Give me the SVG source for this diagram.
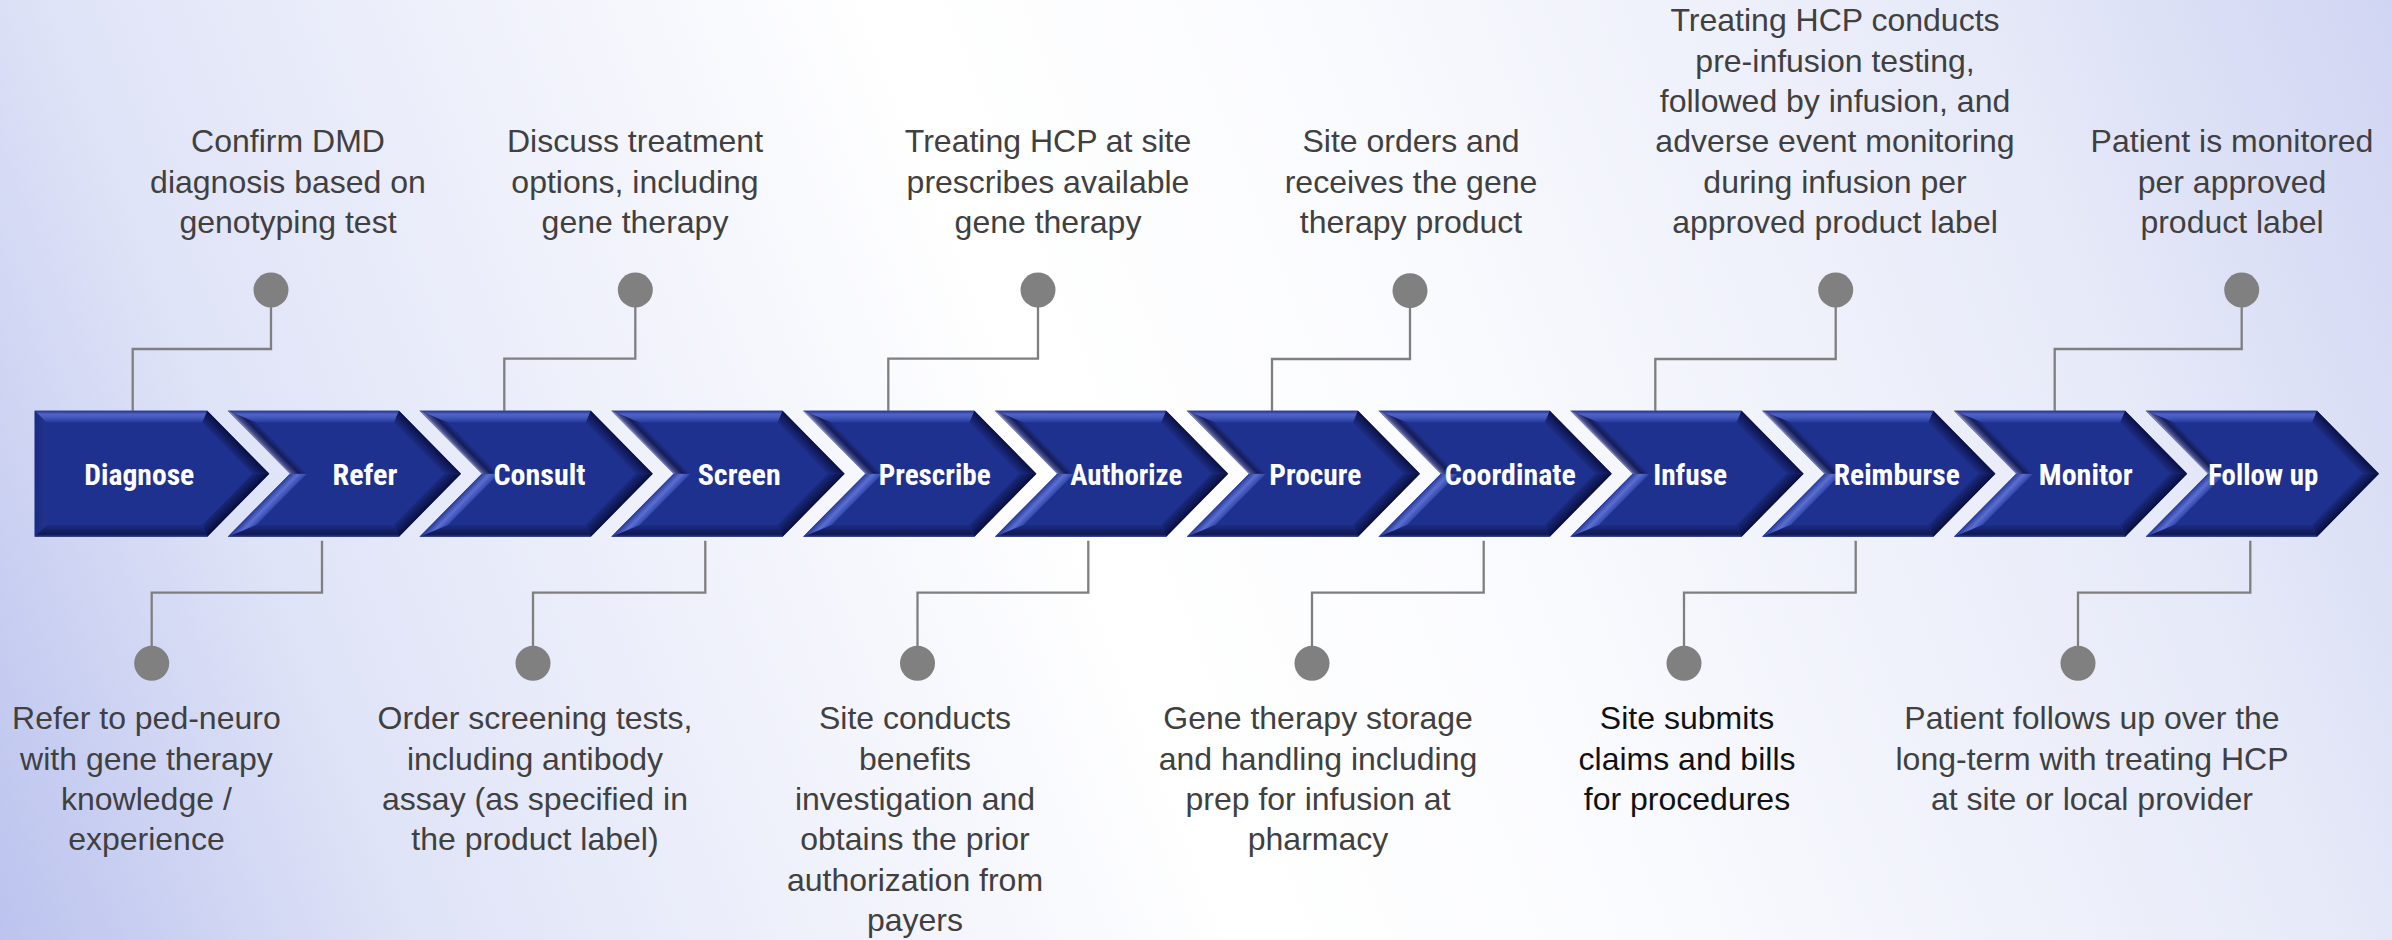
<svg xmlns="http://www.w3.org/2000/svg" xmlns:xlink="http://www.w3.org/1999/xlink" width="2392" height="940" viewBox="0 0 2392 940">
<defs>
<linearGradient id="bg" gradientUnits="userSpaceOnUse" x1="0" y1="940" x2="2392" y2="0">
<stop offset="0" stop-color="#bcc3ee"/>
<stop offset="0.15" stop-color="#dfe3f7"/>
<stop offset="0.45" stop-color="#ffffff"/>
<stop offset="0.6" stop-color="#fafbfe"/>
<stop offset="0.85" stop-color="#e6e9f8"/>
<stop offset="1" stop-color="#d0d5f3"/>
</linearGradient>
<linearGradient id="gTop" gradientUnits="userSpaceOnUse" x1="0" y1="0" x2="0" y2="12">
<stop offset="0" stop-color="#22338e"/>
<stop offset="0.3" stop-color="#5064c8"/>
<stop offset="0.6" stop-color="#4256b9"/>
<stop offset="1" stop-color="#23359a"/>
</linearGradient>
<linearGradient id="gBot" gradientUnits="userSpaceOnUse" x1="0" y1="114" x2="0" y2="126">
<stop offset="0" stop-color="#1d2d85"/>
<stop offset="0.8" stop-color="#0f1852"/>
<stop offset="1" stop-color="#2e3d82"/>
</linearGradient>
<linearGradient id="gRU" gradientUnits="userSpaceOnUse" x1="191.3" y1="37.5" x2="199.9" y2="29.1">
<stop offset="0" stop-color="#1d2d86"/>
<stop offset="1" stop-color="#0a1145"/>
</linearGradient>
<linearGradient id="gRL" gradientUnits="userSpaceOnUse" x1="191.3" y1="88.5" x2="199.9" y2="96.9">
<stop offset="0" stop-color="#1a2a80"/>
<stop offset="1" stop-color="#080f3e"/>
</linearGradient>
<linearGradient id="gLU" gradientUnits="userSpaceOnUse" x1="54" y1="37.5" x2="45.4" y2="45.9">
<stop offset="0" stop-color="#1f2f8a"/>
<stop offset="0.45" stop-color="#141c5a"/>
<stop offset="0.85" stop-color="#4a5190"/>
<stop offset="1" stop-color="#8a90b8"/>
</linearGradient>
<linearGradient id="gLL" gradientUnits="userSpaceOnUse" x1="54" y1="88.5" x2="45.4" y2="80.1">
<stop offset="0" stop-color="#3347ad"/>
<stop offset="0.5" stop-color="#5a6fd0"/>
<stop offset="1" stop-color="#2a3c9a"/>
</linearGradient>
<linearGradient id="gL0" gradientUnits="userSpaceOnUse" x1="0" y1="0" x2="12" y2="0">
<stop offset="0" stop-color="#1a2a80"/>
<stop offset="1" stop-color="#22348f"/>
</linearGradient>
<g id="chev">
<polygon points="0,0 171.3,0 233.3,63 171.3,126 0,126 62.3,63" fill="#1f318f"/>
<polygon points="0,0 171.3,0 166.3,12 28.8,12" fill="url(#gTop)"/>
<polygon points="171.3,0 233.3,63 216.4,63 166.3,12" fill="url(#gRU)"/>
<polygon points="233.3,63 171.3,126 166.3,114 216.4,63" fill="url(#gRL)"/>
<polygon points="171.3,126 0,126 28.8,114 166.3,114" fill="url(#gBot)"/>
<polygon points="0,126 62.3,63 79.2,63 28.8,114" fill="url(#gLL)"/>
<polygon points="62.3,63 0,0 28.8,12 79.2,63" fill="url(#gLU)"/>
</g>
<g id="chev0">
<polygon points="0,0 172.6,0 234.6,63 172.6,126 0,126" fill="#1f318f"/>
<polygon points="0,0 172.6,0 167.6,12 12,12" fill="url(#gTop)"/>
<polygon points="172.6,0 234.6,63 217.7,63 167.6,12" fill="url(#gRU)"/>
<polygon points="234.6,63 172.6,126 167.6,114 217.7,63" fill="url(#gRL)"/>
<polygon points="172.6,126 0,126 12,114 167.6,114" fill="url(#gBot)"/>
<polygon points="0,0 12,12 12,114 0,126" fill="url(#gL0)"/>
</g>
</defs>
<style>
.lbl{font-family:"Liberation Sans Narrow","Arial Narrow","Roboto Condensed","Liberation Sans",Arial,sans-serif;font-weight:bold;font-size:29px;fill:#ffffff;text-anchor:middle}
.note{font-family:"Liberation Sans",Arial,sans-serif;font-size:32px;fill:#404040;text-anchor:middle}
.note.dk{fill:#111111}
.conn{fill:none;stroke:#7f7f7f;stroke-width:2.3}
.dot{fill:#808080}
</style>
<rect x="0" y="0" width="2392" height="940" fill="url(#bg)"/>

<g id="connectors">
<path class="conn" d="M132.7,410.7 V349 H271 V290"/>
<path class="conn" d="M504.3,410.7 V358.7 H635.3 V290"/>
<path class="conn" d="M888.3,410.7 V358.7 H1038 V290"/>
<path class="conn" d="M1272,410.7 V359 H1410 V290"/>
<path class="conn" d="M1655.3,410.7 V359 H1835.7 V290"/>
<path class="conn" d="M2054.7,410.7 V349 H2241.7 V290"/>
<path class="conn" d="M322,540.7 V592.7 H151.7 V663.3"/>
<path class="conn" d="M705.3,540.7 V592.7 H533 V663.3"/>
<path class="conn" d="M1088.3,540.7 V592.7 H917.5 V663.3"/>
<path class="conn" d="M1483.7,540.7 V592.7 H1312 V663.3"/>
<path class="conn" d="M1855.7,540.7 V592.7 H1684 V663.3"/>
<path class="conn" d="M2250.3,540.7 V592.7 H2078 V663.3"/>
</g>

<g id="node-diagnose">
<use href="#chev0" xlink:href="#chev0" transform="translate(34.7,410.7)"/>
<text class="lbl" x="139.3" y="485" textLength="110" lengthAdjust="spacingAndGlyphs">Diagnose</text>
</g>
<g id="node-refer">
<use href="#chev" xlink:href="#chev" transform="translate(227.7,410.7)"/>
<text class="lbl" x="365" y="485" textLength="65" lengthAdjust="spacingAndGlyphs">Refer</text>
</g>
<g id="node-consult">
<use href="#chev" xlink:href="#chev" transform="translate(419.5,410.7)"/>
<text class="lbl" x="539.5" y="485" textLength="92" lengthAdjust="spacingAndGlyphs">Consult</text>
</g>
<g id="node-screen">
<use href="#chev" xlink:href="#chev" transform="translate(611.3,410.7)"/>
<text class="lbl" x="739.2" y="485" textLength="83" lengthAdjust="spacingAndGlyphs">Screen</text>
</g>
<g id="node-prescribe">
<use href="#chev" xlink:href="#chev" transform="translate(803.1,410.7)"/>
<text class="lbl" x="934.7" y="485" textLength="112" lengthAdjust="spacingAndGlyphs">Prescribe</text>
</g>
<g id="node-authorize">
<use href="#chev" xlink:href="#chev" transform="translate(994.9,410.7)"/>
<text class="lbl" x="1126.2" y="485" textLength="112" lengthAdjust="spacingAndGlyphs">Authorize</text>
</g>
<g id="node-procure">
<use href="#chev" xlink:href="#chev" transform="translate(1186.7,410.7)"/>
<text class="lbl" x="1315.3" y="485" textLength="92" lengthAdjust="spacingAndGlyphs">Procure</text>
</g>
<g id="node-coordinate">
<use href="#chev" xlink:href="#chev" transform="translate(1378.5,410.7)"/>
<text class="lbl" x="1510.2" y="485" textLength="131" lengthAdjust="spacingAndGlyphs">Coordinate</text>
</g>
<g id="node-infuse">
<use href="#chev" xlink:href="#chev" transform="translate(1570.3,410.7)"/>
<text class="lbl" x="1690.2" y="485" textLength="74" lengthAdjust="spacingAndGlyphs">Infuse</text>
</g>
<g id="node-reimburse">
<use href="#chev" xlink:href="#chev" transform="translate(1762.1,410.7)"/>
<text class="lbl" x="1896.8" y="485" textLength="126" lengthAdjust="spacingAndGlyphs">Reimburse</text>
</g>
<g id="node-monitor">
<use href="#chev" xlink:href="#chev" transform="translate(1953.9,410.7)"/>
<text class="lbl" x="2085.8" y="485" textLength="94" lengthAdjust="spacingAndGlyphs">Monitor</text>
</g>
<g id="node-followup">
<use href="#chev" xlink:href="#chev" transform="translate(2145.7,410.7)"/>
<text class="lbl" x="2263.2" y="485" textLength="110" lengthAdjust="spacingAndGlyphs">Follow up</text>
</g>

<g id="note-diagnose">
<circle class="dot" cx="271" cy="290" r="17.5"/>
<text class="note" x="288" y="152.3"><tspan x="288">Confirm DMD</tspan><tspan x="288" dy="40.3">diagnosis based on</tspan><tspan x="288" dy="40.3">genotyping test</tspan></text>
</g>
<g id="note-consult">
<circle class="dot" cx="635.3" cy="290" r="17.5"/>
<text class="note" x="635" y="152.3"><tspan x="635">Discuss treatment</tspan><tspan x="635" dy="40.3">options, including</tspan><tspan x="635" dy="40.3">gene therapy</tspan></text>
</g>
<g id="note-prescribe">
<circle class="dot" cx="1038" cy="290" r="17.5"/>
<text class="note" x="1048" y="152.3"><tspan x="1048">Treating HCP at site</tspan><tspan x="1048" dy="40.3">prescribes available</tspan><tspan x="1048" dy="40.3">gene therapy</tspan></text>
</g>
<g id="note-procure">
<circle class="dot" cx="1410" cy="290.7" r="17.5"/>
<text class="note" x="1411" y="152.3"><tspan x="1411">Site orders and</tspan><tspan x="1411" dy="40.3">receives the gene</tspan><tspan x="1411" dy="40.3">therapy product</tspan></text>
</g>
<g id="note-infuse">
<circle class="dot" cx="1835.7" cy="290" r="17.5"/>
<text class="note" x="1835" y="31.4"><tspan x="1835">Treating HCP conducts</tspan><tspan x="1835" dy="40.3">pre-infusion testing,</tspan><tspan x="1835" dy="40.3">followed by infusion, and</tspan><tspan x="1835" dy="40.3">adverse event monitoring</tspan><tspan x="1835" dy="40.3">during infusion per</tspan><tspan x="1835" dy="40.3">approved product label</tspan></text>
</g>
<g id="note-monitor">
<circle class="dot" cx="2241.7" cy="290" r="17.5"/>
<text class="note" x="2232" y="152.3"><tspan x="2232">Patient is monitored</tspan><tspan x="2232" dy="40.3">per approved</tspan><tspan x="2232" dy="40.3">product label</tspan></text>
</g>

<g id="note-refer">
<circle class="dot" cx="151.7" cy="663.3" r="17.5"/>
<text class="note" x="146.4" y="729.3"><tspan x="146.4">Refer to ped-neuro</tspan><tspan x="146.4" dy="40.3">with gene therapy</tspan><tspan x="146.4" dy="40.3">knowledge /</tspan><tspan x="146.4" dy="40.3">experience</tspan></text>
</g>
<g id="note-screen">
<circle class="dot" cx="533" cy="663.3" r="17.5"/>
<text class="note" x="535" y="729.3"><tspan x="535">Order screening tests,</tspan><tspan x="535" dy="40.3">including antibody</tspan><tspan x="535" dy="40.3">assay (as specified in</tspan><tspan x="535" dy="40.3">the product label)</tspan></text>
</g>
<g id="note-authorize">
<circle class="dot" cx="917.5" cy="663.3" r="17.5"/>
<text class="note" x="915" y="729.3"><tspan x="915">Site conducts</tspan><tspan x="915" dy="40.3">benefits</tspan><tspan x="915" dy="40.3">investigation and</tspan><tspan x="915" dy="40.3">obtains the prior</tspan><tspan x="915" dy="40.3">authorization from</tspan><tspan x="915" dy="40.3">payers</tspan></text>
</g>
<g id="note-coordinate">
<circle class="dot" cx="1312" cy="663.3" r="17.5"/>
<text class="note" x="1318" y="729.3"><tspan x="1318">Gene therapy storage</tspan><tspan x="1318" dy="40.3">and handling including</tspan><tspan x="1318" dy="40.3">prep for infusion at</tspan><tspan x="1318" dy="40.3">pharmacy</tspan></text>
</g>
<g id="note-reimburse">
<circle class="dot" cx="1684" cy="663.3" r="17.5"/>
<text class="note dk" x="1687" y="729.3"><tspan x="1687">Site submits</tspan><tspan x="1687" dy="40.3">claims and bills</tspan><tspan x="1687" dy="40.3">for procedures</tspan></text>
</g>
<g id="note-followup">
<circle class="dot" cx="2078" cy="663.3" r="17.5"/>
<text class="note" x="2092" y="729.3"><tspan x="2092">Patient follows up over the</tspan><tspan x="2092" dy="40.3">long-term with treating HCP</tspan><tspan x="2092" dy="40.3">at site or local provider</tspan></text>
</g>
</svg>
